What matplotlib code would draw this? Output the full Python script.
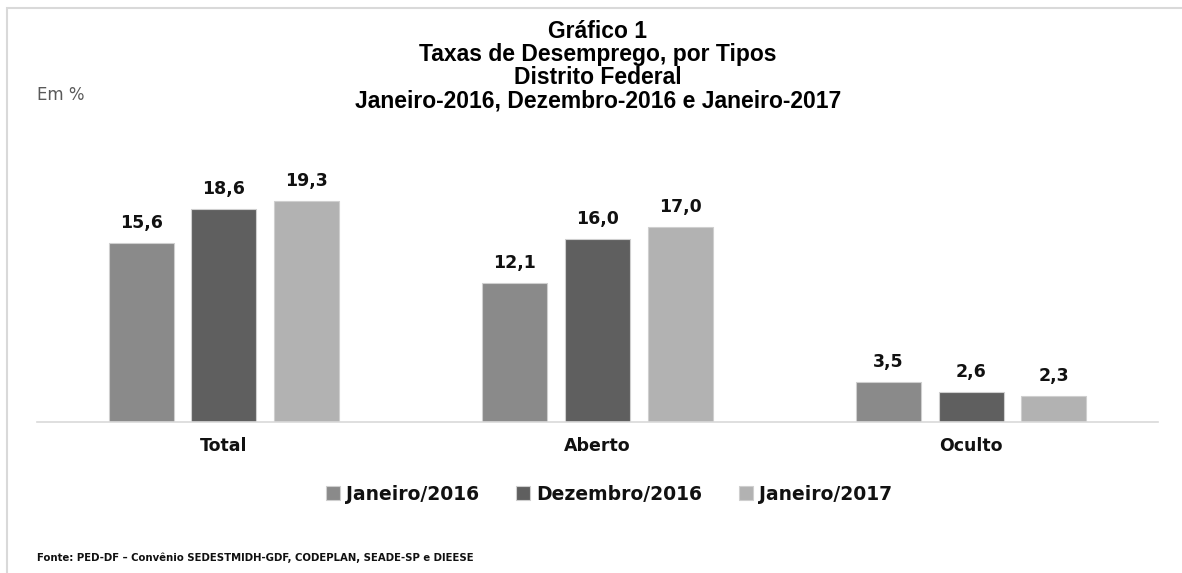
import matplotlib.pyplot as plt
from matplotlib.patches import Rectangle
import numpy as np

categories = ['Total', 'Aberto', 'Oculto']
series_names = ['Janeiro/2016', 'Dezembro/2016', 'Janeiro/2017']
jan_2016 = [15.6, 12.1, 3.5]
dez_2016 = [18.6, 16.0, 2.6]
jan_2017 = [19.3, 17.0, 2.3]
colors = ['#8a8a8a', '#5f5f5f', '#b2b2b2']

title_lines = ['Gráfico 1',
               'Taxas de Desemprego, por Tipos',
               'Distrito Federal',
               'Janeiro-2016, Dezembro-2016 e Janeiro-2017']
fonte = 'Fonte: PED-DF – Convênio SEDESTMIDH-GDF, CODEPLAN, SEADE-SP e DIEESE'

W, H = 1182, 573
fig = plt.figure(figsize=(W / 100, H / 100), dpi=100)
ax = fig.add_axes([37 / W, (H - 422) / H, 1121 / W, 275 / H])

x = np.arange(len(categories))
step = 0.221
width = 0.174
for i, (vals, name) in enumerate(zip([jan_2016, dez_2016, jan_2017], series_names)):
    bars = ax.bar(x + (i - 1) * step, vals, width, color=colors[i], label=name,
                  edgecolor='#cfcfcf', linewidth=0.8)
    for b, v in zip(bars, vals):
        ax.annotate(f'{v:.1f}'.replace('.', ','), (b.get_x() + b.get_width() / 2, v),
                    xytext=(0, 8), textcoords='offset points', ha='center', va='bottom',
                    fontsize=12.5, fontweight='bold', family='DejaVu Sans', color='#111111')

ax.set_xlim(-0.5, 2.5)
ax.set_ylim(0, 24)
ax.set_yticks([])
ax.set_xticks(x)
ax.set_xticklabels(categories, fontsize=12.5, fontweight='bold', family='DejaVu Sans')
ax.tick_params(axis='x', length=0, pad=10.5, colors='#111111')
for s in ['top', 'left', 'right']:
    ax.spines[s].set_visible(False)
ax.spines['bottom'].set_color('#d9d9d9')
ax.spines['bottom'].set_linewidth(1.2)

leg = fig.legend(loc='center', bbox_to_anchor=(609 / W, 1 - 494 / H), ncol=3, frameon=False,
                 prop={'family': 'DejaVu Sans', 'weight': 'bold', 'size': 13.5},
                 handlelength=0.75, handleheight=0.75, handletextpad=0.3, columnspacing=2.0)
for t in leg.get_texts():
    t.set_color('#111111')

# title, one line at a time
for k, line in enumerate(title_lines):
    fig.text(598 / W, 1 - (32 + 23 * k) / H, line, ha='center', va='center',
             fontsize=16.5, fontweight='bold', family='Liberation Sans', color='#000000')

fig.text(37 / W, 1 - 95 / H, 'Em %', ha='left', va='center', fontsize=12,
         family='DejaVu Sans', color='#595959')
fig.text(37 / W, 1 - 558 / H, fonte, ha='left', va='center', fontsize=7.3,
         fontweight='bold', family='DejaVu Sans', color='#111111')

# outer frame (only top and left edge inside the picture)
fig.patches.append(Rectangle((6.5 / W, -0.2), 1.2, 1.2 - 7.5 / H,
                             transform=fig.transFigure, fill=False,
                             edgecolor='#d9d9d9', linewidth=1.5))

fig.savefig('out.png', dpi=100)
